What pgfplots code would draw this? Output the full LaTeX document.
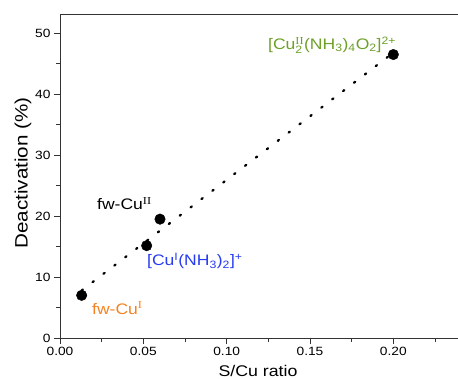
\documentclass[border=0pt]{standalone}
\usepackage{amsmath}
\usepackage{fontspec}
\setmainfont{Liberation Sans}[FakeStretch=1.15]
\newfontfamily\serifroman{Liberation Serif}[FakeStretch=1.15]
\usepackage{pgfplots}
\pgfplotsset{compat=1.18}
\definecolor{cuorange}{RGB}{245,130,32}
\definecolor{cublue}{RGB}{40,60,240}
\definecolor{cugreen}{RGB}{110,160,40}
\newcommand{\rn}[1]{{\serifroman #1}}
\newcommand{\subsup}[2]{\ensuremath{{}_{\text{#1}}^{\text{#2}}}}
\newcommand{\tsub}[1]{\ensuremath{{}_{\text{#1}}}}
\begin{document}
\begin{tikzpicture}
\begin{axis}[
  scale only axis, width=398bp, height=324bp,
  xmin=0, xmax=0.2388, ymin=0, ymax=53.15,
  axis x line*=bottom, axis y line*=left,
  axis line style={black!80, line width=0.9bp, -},
  tick style={black!80, line width=0.9bp},
  tick align=outside,
  major tick length=6bp, minor tick length=3.5bp,
  xtick={0,0.05,0.1,0.15,0.2},
  minor xtick={0.025,0.075,0.125,0.175,0.225},
  ytick={0,10,20,30,40,50},
  minor ytick={5,15,25,35,45},
  scaled x ticks=false,
  /pgf/number format/assume math mode=true,
  xticklabel style={/pgf/number format/fixed, /pgf/number format/fixed zerofill, /pgf/number format/precision=2},
  ticklabel style={font=\fontsize{12}{14}\selectfont},
  xlabel={S/Cu ratio}, ylabel={Deactivation (\%)},
  xlabel style={font=\fontsize{15.5}{18}\selectfont, at={(axis description cs:0.4975,-0.102)}, anchor=center},
  ylabel style={font=\fontsize{18}{20}\selectfont, at={(axis description cs:-0.093,0.509)}, anchor=center},
  clip=false,
]
\addplot[black, line width=2.3bp, line cap=round, dash pattern=on 1.5bp off 12.2bp] coordinates {(0.013,7.8) (0.2,46.8)};
\addplot[only marks, mark=*, mark size=5.3pt, black] coordinates {(0.013,7.0) (0.052,15.15) (0.06,19.5) (0.2,46.5)};
\draw[black!80, line width=0.9bp] (rel axis cs:0,1) -- (rel axis cs:1,1);
\node[anchor=west, text=cuorange, font=\fontsize{15.3}{17}\selectfont, inner sep=0pt] at (axis cs:0.0192,4.9) {fw-Cu\textsuperscript{\rn{I}}};
\node[anchor=west, text=cublue, font=\fontsize{15.3}{17}\selectfont, inner sep=0pt] at (axis cs:0.0522,12.6) {[Cu\textsuperscript{I}(NH\tsub{3})\tsub{2}]\textsuperscript{+}};
\node[anchor=west, text=black, font=\fontsize{15.3}{17}\selectfont, inner sep=0pt] at (axis cs:0.0222,22.1) {fw-Cu\textsuperscript{\rn{II}}};
\node[anchor=west, text=cugreen, font=\fontsize{15.3}{17}\selectfont, inner sep=0pt] at (axis cs:0.1248,48.0) {[Cu\subsup{2}{\rn{II}}(NH\tsub{3})\tsub{4}O\tsub{2}]\textsuperscript{2+}};
\coordinate (O) at (rel axis cs:0,0);
\end{axis}
\pgfresetboundingbox
\path[use as bounding box] (O) ++(-60bp,-41bp) rectangle ++(458bp,379bp);
\end{tikzpicture}
\end{document}
